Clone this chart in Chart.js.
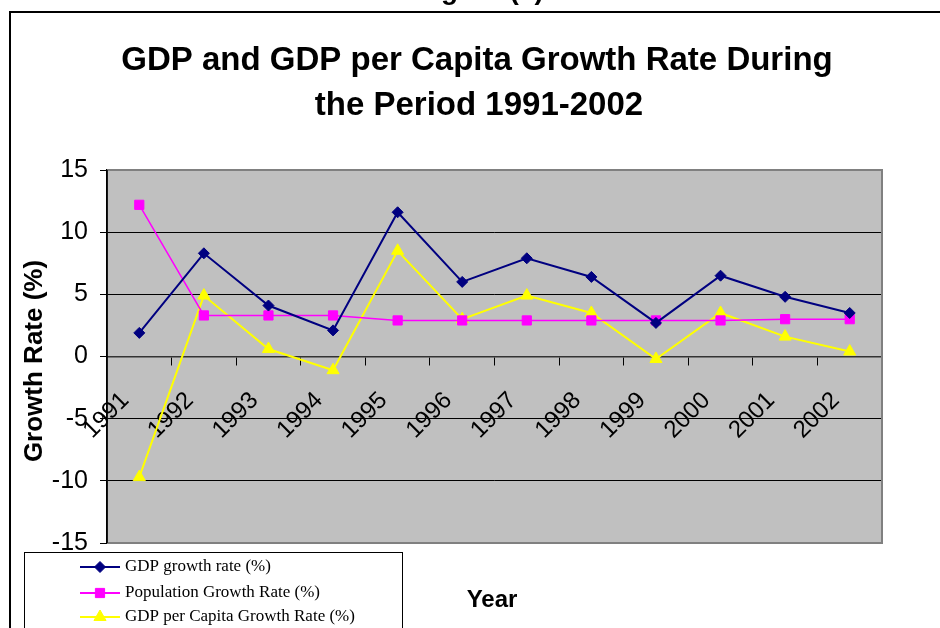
<!DOCTYPE html>
<html>
<head>
<meta charset="utf-8">
<title>GDP and GDP per Capita Growth Rate 1991-2002</title>
<script src="https://cdn.jsdelivr.net/npm/chart.js@4.4.1/dist/chart.umd.min.js"></script>
<style>
  html, body { margin: 0; padding: 0; background: #fff; }
  #wrap { position: relative; width: 940px; height: 628px; overflow: hidden; }
  canvas { display: block; }
</style>
</head>
<body>
<div id="wrap"><canvas id="growthChart" width="940" height="628"></canvas></div>
<script>
  'use strict';

  // Annual growth rates, percent
  var years = ['1991', '1992', '1993', '1994', '1995', '1996', '1997', '1998', '1999', '2000', '2001', '2002'];
  var gdpGrowth = [1.9, 8.3, 4.1, 2.1, 11.6, 6.0, 7.9, 6.4, 2.7, 6.5, 4.8, 3.5];
  var popGrowth = [12.2, 3.3, 3.3, 3.3, 2.9, 2.9, 2.9, 2.9, 2.9, 2.9, 3.0, 3.0];
  var perCapitaGrowth = [-9.7, 4.9, 0.6, -1.1, 8.5, 3.0, 4.9, 3.5, -0.2, 3.5, 1.6, 0.4];

  var seriesNames = ['GDP growth rate (%)', 'Population Growth Rate (%)', 'GDP per Capita Growth Rate (%)'];
  var yTicks = [-15, -10, -5, 0, 5, 10, 15];

  var titleLines = ['GDP and GDP per Capita Growth Rate During', 'the Period 1991-2002'];
  var yTitle = 'Growth Rate (%)';
  var xTitle = 'Year';
  var caption = 'Figure (1)';

  var SANS = 'Arial, "Liberation Sans", sans-serif';
  var SERIF = '"Times New Roman", "Liberation Serif", serif';

  function series(label, data, color, style, radius, width) {
    return {
      label: label,
      data: data,
      borderColor: color,
      backgroundColor: color,
      borderWidth: width,
      pointStyle: style,
      pointRadius: radius,
      pointHoverRadius: radius,
      pointBorderWidth: 1,
      tension: 0,
      fill: false
    };
  }

  // grey plot area + its border, drawn under the lines
  var backdrop = {
    id: 'backdrop',
    beforeDraw: function (chart) {
      var ctx = chart.ctx, a = chart.chartArea;
      ctx.save();
      ctx.fillStyle = '#fff';
      ctx.fillRect(0, 0, chart.width, chart.height);
      ctx.fillStyle = '#c0c0c0';
      ctx.fillRect(a.left, a.top, a.right - a.left, a.bottom - a.top);
      ctx.restore();
    },
    beforeDatasetsDraw: function (chart) {
      var ctx = chart.ctx, a = chart.chartArea;
      ctx.save();
      ctx.strokeStyle = '#808080';
      ctx.lineWidth = 2;
      ctx.beginPath();
      ctx.moveTo(a.left, a.top);
      ctx.lineTo(a.right, a.top);
      ctx.lineTo(a.right, a.bottom);
      ctx.lineTo(a.left, a.bottom);
      ctx.stroke();
      ctx.strokeStyle = '#000';
      ctx.lineWidth = 1.5;
      ctx.beginPath();
      ctx.moveTo(a.left, a.top);
      ctx.lineTo(a.left, a.bottom);
      ctx.stroke();
      ctx.restore();
    }
  };

  // titles, frame and the boxed legend
  var annotations = {
    id: 'annotations',
    afterDraw: function (chart) {
      var ctx = chart.ctx;
      ctx.save();

      // caption of the page above, mostly cut off
      ctx.fillStyle = '#000';
      ctx.font = 'bold 28px ' + SANS;
      ctx.textAlign = 'center';
      ctx.textBaseline = 'alphabetic';
      ctx.fillText(caption, 480, -1);

      // chart frame
      ctx.strokeStyle = '#000';
      ctx.lineWidth = 2;
      ctx.beginPath();
      ctx.moveTo(10, chart.height + 2);
      ctx.lineTo(10, 12);
      ctx.lineTo(chart.width + 2, 12);
      ctx.stroke();

      // main title
      ctx.font = 'bold 33px ' + SANS;
      ctx.fillText(titleLines[0], 477, 70);
      ctx.fillText(titleLines[1], 479, 115);

      // axis titles
      ctx.font = 'bold 24px ' + SANS;
      ctx.fillText(xTitle, 492, 607);
      ctx.save();
      ctx.translate(42, 361);
      ctx.rotate(-Math.PI / 2);
      ctx.font = 'bold 26px ' + SANS;
      ctx.fillText(yTitle, 0, 0);
      ctx.restore();

      // legend box
      ctx.fillStyle = '#fff';
      ctx.fillRect(24, 552, 378, 90);
      ctx.strokeStyle = '#000';
      ctx.lineWidth = 1;
      ctx.strokeRect(24.5, 552.5, 378, 90);

      var rows = [567, 593, 617];
      ctx.font = '17px ' + SERIF;
      ctx.textAlign = 'left';
      ctx.textBaseline = 'middle';
      chart.data.datasets.forEach(function (ds, i) {
        var y = rows[i];
        ctx.strokeStyle = ds.borderColor;
        ctx.fillStyle = ds.backgroundColor;
        ctx.lineWidth = 2;
        ctx.beginPath();
        ctx.moveTo(80, y);
        ctx.lineTo(120, y);
        ctx.stroke();
        ctx.lineWidth = 1;
        Chart.helpers.drawPoint(ctx, {
          pointStyle: ds.pointStyle,
          radius: ds.pointRadius,
          rotation: 0,
          borderWidth: 1
        }, 100, y);
        ctx.fillStyle = '#000';
        ctx.fillText(ds.label, 125, y);
      });

      ctx.restore();
    }
  };

  new Chart(document.getElementById('growthChart').getContext('2d'), {
    type: 'line',
    data: {
      labels: years,
      datasets: [
        series(seriesNames[0], gdpGrowth, '#000080', 'rectRot', 5.5, 2),
        series(seriesNames[1], popGrowth, '#ff00ff', 'rect', 6.5, 1.5),
        series(seriesNames[2], perCapitaGrowth, '#ffff00', 'triangle', 7, 2)
      ]
    },
    options: {
      responsive: false,
      animation: false,
      layout: { padding: { left: 0, top: 170, right: 58, bottom: 85 } },
      plugins: {
        legend: { display: false },
        title: { display: false },
        tooltip: { enabled: false }
      },
      scales: {
        x: {
          type: 'category',
          position: { y: 0 },
          offset: true,
          grid: {
            offset: true,
            drawOnChartArea: false,
            drawTicks: true,
            tickLength: 8,
            color: '#000',
            lineWidth: 1
          },
          border: { display: true, color: '#333', width: 1.5 },
          ticks: {
            autoSkip: false,
            minRotation: 45,
            maxRotation: 45,
            padding: 22,
            labelOffset: -14,
            color: '#000',
            font: { family: SANS, size: 24 }
          }
        },
        y: {
          min: yTicks[0],
          max: yTicks[yTicks.length - 1],
          afterFit: function (scale) { scale.width = 107; },
          afterBuildTicks: function (scale) {
            scale.ticks = yTicks.map(function (v) { return { value: v }; });
          },
          grid: {
            color: '#000',
            lineWidth: 1,
            drawTicks: true,
            tickLength: 7
          },
          border: { display: true, color: '#000', width: 1.5 },
          ticks: {
            padding: 12,
            color: '#000',
            font: { family: SANS, size: 25 }
          }
        }
      }
    },
    plugins: [backdrop, annotations]
  });
</script>
</body>
</html>
